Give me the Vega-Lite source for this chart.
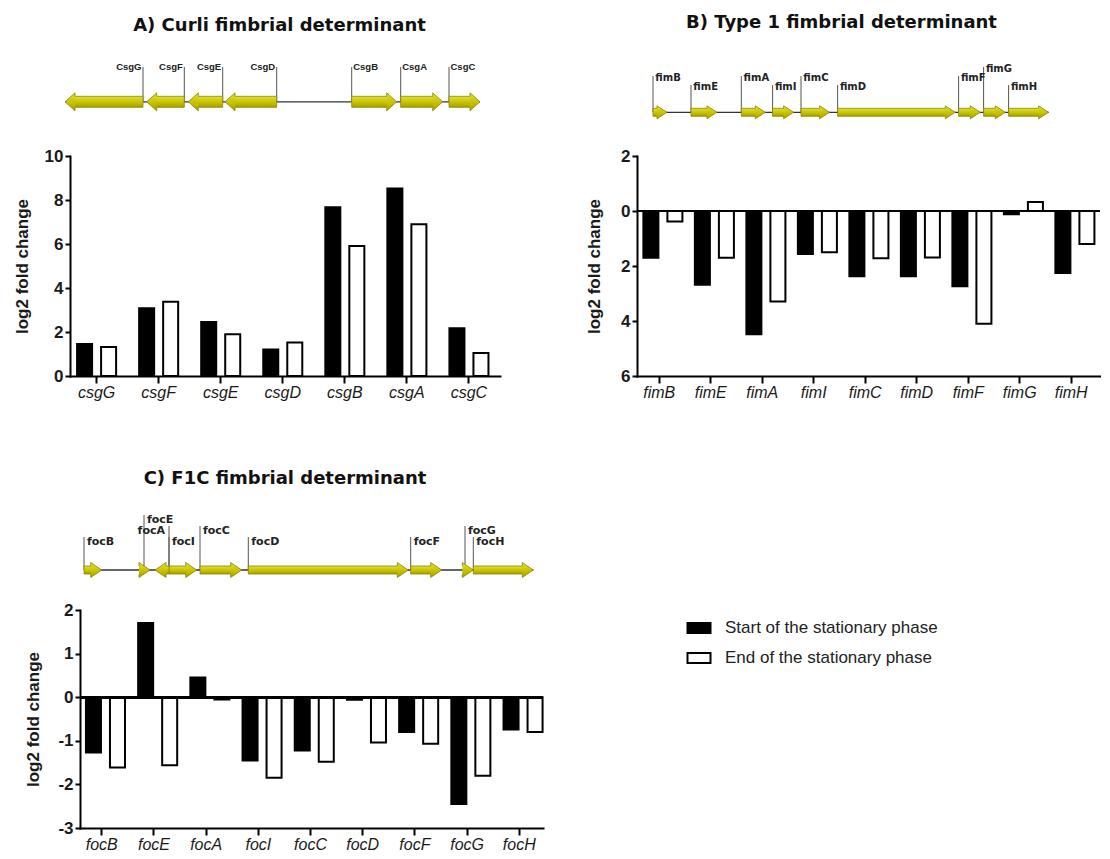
{
  "$schema": "https://vega.github.io/schema/vega-lite/v6.json",
  "background": "white",
  "padding": {"left": 13, "top": 14, "right": 0, "bottom": 0},
  "config": {
    "view": {"stroke": null},
    "font": "Liberation Sans",
    "title": {"font": "DejaVu Sans", "fontSize": 18, "fontWeight": "bold", "color": "#111111", "anchor": "middle"},
    "axis": {
      "domainColor": "black", "domainWidth": 2, "domainCap": "square",
      "tickColor": "black", "tickWidth": 2, "grid": false,
      "labelFont": "Liberation Sans", "labelFontSize": 16, "labelColor": "#1a1a1a",
      "titleFont": "Liberation Sans", "titleFontSize": 17, "titleFontWeight": "bold", "titleColor": "#1a1a1a"
    },
    "axisX": {"title": null, "labelFontStyle": "italic", "labelAngle": 0, "tickSize": 7, "labelPadding": 1},
    "axisY": {"labelFontWeight": "bold", "labelFontSize": 17, "tickSize": 5, "labelPadding": 2}
  },
  "datasets": {
    "csg": [
      {"gene": "csgG", "phase": "Start of the stationary phase", "value": 1.45},
      {"gene": "csgG", "phase": "End of the stationary phase", "value": 1.32},
      {"gene": "csgF", "phase": "Start of the stationary phase", "value": 3.08},
      {"gene": "csgF", "phase": "End of the stationary phase", "value": 3.38},
      {"gene": "csgE", "phase": "Start of the stationary phase", "value": 2.45},
      {"gene": "csgE", "phase": "End of the stationary phase", "value": 1.9},
      {"gene": "csgD", "phase": "Start of the stationary phase", "value": 1.2},
      {"gene": "csgD", "phase": "End of the stationary phase", "value": 1.52},
      {"gene": "csgB", "phase": "Start of the stationary phase", "value": 7.67},
      {"gene": "csgB", "phase": "End of the stationary phase", "value": 5.91},
      {"gene": "csgA", "phase": "Start of the stationary phase", "value": 8.52},
      {"gene": "csgA", "phase": "End of the stationary phase", "value": 6.9},
      {"gene": "csgC", "phase": "Start of the stationary phase", "value": 2.17},
      {"gene": "csgC", "phase": "End of the stationary phase", "value": 1.05}
    ],
    "fim": [
      {"gene": "fimB", "phase": "Start of the stationary phase", "value": -1.7},
      {"gene": "fimB", "phase": "End of the stationary phase", "value": -0.38},
      {"gene": "fimE", "phase": "Start of the stationary phase", "value": -2.68},
      {"gene": "fimE", "phase": "End of the stationary phase", "value": -1.7},
      {"gene": "fimA", "phase": "Start of the stationary phase", "value": -4.48},
      {"gene": "fimA", "phase": "End of the stationary phase", "value": -3.29},
      {"gene": "fimI", "phase": "Start of the stationary phase", "value": -1.56},
      {"gene": "fimI", "phase": "End of the stationary phase", "value": -1.5},
      {"gene": "fimC", "phase": "Start of the stationary phase", "value": -2.37},
      {"gene": "fimC", "phase": "End of the stationary phase", "value": -1.72},
      {"gene": "fimD", "phase": "Start of the stationary phase", "value": -2.37},
      {"gene": "fimD", "phase": "End of the stationary phase", "value": -1.69},
      {"gene": "fimF", "phase": "Start of the stationary phase", "value": -2.74},
      {"gene": "fimF", "phase": "End of the stationary phase", "value": -4.1},
      {"gene": "fimG", "phase": "Start of the stationary phase", "value": -0.12},
      {"gene": "fimG", "phase": "End of the stationary phase", "value": 0.33},
      {"gene": "fimH", "phase": "Start of the stationary phase", "value": -2.25},
      {"gene": "fimH", "phase": "End of the stationary phase", "value": -1.2}
    ],
    "foc": [
      {"gene": "focB", "phase": "Start of the stationary phase", "value": -1.27},
      {"gene": "focB", "phase": "End of the stationary phase", "value": -1.61},
      {"gene": "focE", "phase": "Start of the stationary phase", "value": 1.7},
      {"gene": "focE", "phase": "End of the stationary phase", "value": -1.56},
      {"gene": "focA", "phase": "Start of the stationary phase", "value": 0.45},
      {"gene": "focA", "phase": "End of the stationary phase", "value": -0.05},
      {"gene": "focI", "phase": "Start of the stationary phase", "value": -1.45},
      {"gene": "focI", "phase": "End of the stationary phase", "value": -1.85},
      {"gene": "focC", "phase": "Start of the stationary phase", "value": -1.22},
      {"gene": "focC", "phase": "End of the stationary phase", "value": -1.48},
      {"gene": "focD", "phase": "Start of the stationary phase", "value": -0.06},
      {"gene": "focD", "phase": "End of the stationary phase", "value": -1.04},
      {"gene": "focF", "phase": "Start of the stationary phase", "value": -0.8},
      {"gene": "focF", "phase": "End of the stationary phase", "value": -1.07},
      {"gene": "focG", "phase": "Start of the stationary phase", "value": -2.45},
      {"gene": "focG", "phase": "End of the stationary phase", "value": -1.8},
      {"gene": "focH", "phase": "Start of the stationary phase", "value": -0.74},
      {"gene": "focH", "phase": "End of the stationary phase", "value": -0.8}
    ],
    "csgMap": [
      {"gene": "CsgG", "left": 0, "right": 780, "strand": "-", "tier": 1},
      {"gene": "CsgF", "left": 817, "right": 1193, "strand": "-", "tier": 1},
      {"gene": "CsgE", "left": 1233, "right": 1577, "strand": "-", "tier": 1},
      {"gene": "CsgD", "left": 1600, "right": 2117, "strand": "-", "tier": 1},
      {"gene": "CsgB", "left": 2867, "right": 3317, "strand": "+", "tier": 1},
      {"gene": "CsgA", "left": 3357, "right": 3777, "strand": "+", "tier": 1},
      {"gene": "CsgC", "left": 3840, "right": 4150, "strand": "+", "tier": 1}
    ],
    "fimMap": [
      {"gene": "fimB", "left": 0, "right": 140, "strand": "+", "tier": 4},
      {"gene": "fimE", "left": 380, "right": 640, "strand": "+", "tier": 3},
      {"gene": "fimA", "left": 883, "right": 1123, "strand": "+", "tier": 4},
      {"gene": "fimI", "left": 1196, "right": 1406, "strand": "+", "tier": 3},
      {"gene": "fimC", "left": 1480, "right": 1766, "strand": "+", "tier": 4},
      {"gene": "fimD", "left": 1846, "right": 3023, "strand": "+", "tier": 3},
      {"gene": "fimF", "left": 3056, "right": 3273, "strand": "+", "tier": 4},
      {"gene": "fimG", "left": 3306, "right": 3523, "strand": "+", "tier": 5},
      {"gene": "fimH", "left": 3556, "right": 3956, "strand": "+", "tier": 3}
    ],
    "focMap": [
      {"gene": "focB", "left": 0, "right": 177, "strand": "+", "tier": 3},
      {"gene": "focE", "left": 600, "right": 660, "strand": "+", "tier": 5},
      {"gene": "focA", "left": 710, "right": 850, "strand": "-", "tier": 4},
      {"gene": "focI", "left": 850, "right": 1127, "strand": "+", "tier": 3},
      {"gene": "focC", "left": 1160, "right": 1577, "strand": "+", "tier": 4},
      {"gene": "focD", "left": 1643, "right": 3243, "strand": "+", "tier": 3},
      {"gene": "focF", "left": 3267, "right": 3577, "strand": "+", "tier": 3},
      {"gene": "focG", "left": 3810, "right": 3893, "strand": "+", "tier": 4},
      {"gene": "focH", "left": 3893, "right": 4493, "strand": "+", "tier": 3}
    ]
  },
  "spacing": 69,
  "vconcat": [
    {
      "spacing": 75,
      "hconcat": [
        {
          "width": 420, "height": 220,
          "title": {"text": "A) Curli fimbrial determinant", "dx": -10.5, "offset": 27.5},
          "resolve": {"scale": {"x": "independent", "y": "independent"}},
          "layer": [
            {
              "data": {"name": "csg"},
              "mark": {"type": "bar", "stroke": "black", "strokeWidth": 2, "opacity": 1},
              "encoding": {
                "x": {"field": "gene", "type": "nominal", "sort": null, "scale": {"range": [-10, 420], "paddingInner": 0.371, "paddingOuter": 0.15, "align": 0.38}},
                "xOffset": {"field": "phase", "type": "nominal", "sort": ["Start of the stationary phase", "End of the stationary phase"], "scale": {"paddingInner": 0.375}},
                "y": {"field": "value", "type": "quantitative", "scale": {"domain": [0, 10], "nice": false}, "axis": {"title": "log2 fold change", "values": [0, 2, 4, 6, 8, 10], "offset": 10, "titlePadding": 13}},
                "color": {"field": "phase", "type": "nominal", "scale": {"domain": ["Start of the stationary phase", "End of the stationary phase"], "range": ["#000000", "#ffffff"]},
                  "legend": {"orient": "none", "legendX": 608, "legendY": 461, "title": null, "symbolType": "M-1.15,-0.5H1.15V0.5H-1.15Z", "symbolSize": 400, "symbolStrokeColor": "black", "symbolStrokeWidth": 2, "labelFontSize": 17, "labelFont": "Liberation Sans", "labelColor": "#222222", "labelOffset": 15, "labelLimit": 400, "rowPadding": 10, "padding": 0}}
              }
            },
            {
              "data": {"name": "csgMap"},
              "layer": [
                {"mark": {"type": "rule", "stroke": "#333333", "strokeWidth": 1.3},
                 "encoding": {
                   "x": {"aggregate": "min", "field": "left", "type": "quantitative", "scale": {"domain": [0, 4150], "range": [-15, 400], "nice": false, "zero": false, "padding": 0}, "axis": null},
                   "x2": {"aggregate": "max", "field": "right"},
                   "y": {"datum": 0, "type": "quantitative", "scale": {"domain": [0, 1], "range": [-54.2, -89], "nice": false, "zero": false, "padding": 0}, "axis": null}}},
                {"transform": [{"filter": "datum.strand == '+'"}],
                 "mark": {"type": "rule", "stroke": "#555555", "strokeWidth": 1},
                 "encoding": {"x": {"field": "left", "type": "quantitative"}, "y": {"field": "tier", "type": "quantitative"}, "y2": {"datum": 0}}},
                {"transform": [{"filter": "datum.strand == '-'"}],
                 "mark": {"type": "rule", "stroke": "#555555", "strokeWidth": 1},
                 "encoding": {"x": {"field": "right", "type": "quantitative"}, "y": {"field": "tier", "type": "quantitative"}, "y2": {"datum": 0}}},
                {"transform": [{"filter": "datum.strand == '+'"}],
                 "mark": {"type": "bar", "orient": "horizontal", "height": 11, "x2Offset": -8, "opacity": 1, "stroke": "#8a8800", "strokeWidth": 0.8,
                   "fill": {"gradient": "linear", "x1": 0, "y1": 0, "x2": 0, "y2": 1, "stops": [{"offset": 0, "color": "#dede3a"}, {"offset": 0.5, "color": "#cac600"}, {"offset": 1, "color": "#a4a000"}]}},
                 "encoding": {"x": {"field": "left", "type": "quantitative"}, "x2": {"field": "right"}, "y": {"datum": 0, "type": "quantitative"}}},
                {"transform": [{"filter": "datum.strand == '-'"}],
                 "mark": {"type": "bar", "orient": "horizontal", "height": 11, "xOffset": 8, "opacity": 1, "stroke": "#8a8800", "strokeWidth": 0.8,
                   "fill": {"gradient": "linear", "x1": 0, "y1": 0, "x2": 0, "y2": 1, "stops": [{"offset": 0, "color": "#dede3a"}, {"offset": 0.5, "color": "#cac600"}, {"offset": 1, "color": "#a4a000"}]}},
                 "encoding": {"x": {"field": "left", "type": "quantitative"}, "x2": {"field": "right"}, "y": {"datum": 0, "type": "quantitative"}}},
                {"transform": [{"filter": "datum.strand == '+'"}],
                 "mark": {"type": "point", "filled": true, "opacity": 1, "size": 324, "shape": "M-1.111,-0.61L-1.111,-1L0,0L-1.111,1L-1.111,0.61", "stroke": "#8a8800", "strokeWidth": 0.8,
                   "fill": {"gradient": "linear", "x1": 0, "y1": 0, "x2": 0, "y2": 1, "stops": [{"offset": 0, "color": "#dede3a"}, {"offset": 0.5, "color": "#cac600"}, {"offset": 1, "color": "#a4a000"}]}},
                 "encoding": {"x": {"field": "right", "type": "quantitative"}, "y": {"datum": 0, "type": "quantitative"}}},
                {"transform": [{"filter": "datum.strand == '-'"}],
                 "mark": {"type": "point", "filled": true, "opacity": 1, "size": 324, "shape": "M1.111,-0.61L1.111,-1L0,0L1.111,1L1.111,0.61", "stroke": "#8a8800", "strokeWidth": 0.8,
                   "fill": {"gradient": "linear", "x1": 0, "y1": 0, "x2": 0, "y2": 1, "stops": [{"offset": 0, "color": "#dede3a"}, {"offset": 0.5, "color": "#cac600"}, {"offset": 1, "color": "#a4a000"}]}},
                 "encoding": {"x": {"field": "left", "type": "quantitative"}, "y": {"datum": 0, "type": "quantitative"}}},
                {"transform": [{"filter": "datum.strand == '+'"}],
                 "mark": {"type": "text", "align": "left", "baseline": "alphabetic", "dx": 1.5, "dy": 3.4, "font": "Liberation Sans", "fontSize": 9.5, "fontWeight": "bold", "fill": "#222222"},
                 "encoding": {"x": {"field": "left", "type": "quantitative"}, "y": {"field": "tier", "type": "quantitative"}, "text": {"field": "gene"}}},
                {"transform": [{"filter": "datum.strand == '-'"}],
                 "mark": {"type": "text", "align": "right", "baseline": "alphabetic", "dx": -1.5, "dy": 3.4, "font": "Liberation Sans", "fontSize": 9.5, "fontWeight": "bold", "fill": "#222222"},
                 "encoding": {"x": {"field": "right", "type": "quantitative"}, "y": {"field": "tier", "type": "quantitative"}, "text": {"field": "gene"}}}
              ]
            }
          ]
        },
        {
          "width": 463, "height": 220,
          "title": {"text": "B) Type 1 fimbrial determinant", "dx": -27, "offset": 31.5},
          "resolve": {"scale": {"x": "independent", "y": "independent"}},
          "layer": [
            {
              "data": {"name": "fim"},
              "layer": [
                {
                  "mark": {"type": "bar", "stroke": "black", "strokeWidth": 2, "opacity": 1},
                  "encoding": {
                    "x": {"field": "gene", "type": "nominal", "sort": null, "scale": {"paddingInner": 0.385, "paddingOuter": 0.1875, "align": 0.33}},
                    "xOffset": {"field": "phase", "type": "nominal", "sort": ["Start of the stationary phase", "End of the stationary phase"], "scale": {"paddingInner": 0.35}},
                    "y": {"field": "value", "type": "quantitative", "scale": {"domain": [-6, 2], "nice": false}, "axis": {"title": "log2 fold change", "values": [2, 0, -2, -4, -6], "labelExpr": "abs(datum.value)", "titlePadding": 17}},
                    "color": {"field": "phase", "type": "nominal", "scale": {"domain": ["Start of the stationary phase", "End of the stationary phase"], "range": ["#000000", "#ffffff"]},
                      "legend": {"orient": "none", "legendX": 608, "legendY": 461, "title": null, "symbolType": "M-1.15,-0.5H1.15V0.5H-1.15Z", "symbolSize": 400, "symbolStrokeColor": "black", "symbolStrokeWidth": 2, "labelFontSize": 17, "labelFont": "Liberation Sans", "labelColor": "#222222", "labelOffset": 15, "labelLimit": 400, "rowPadding": 10, "padding": 0}}
                  }
                },
                {"mark": {"type": "rule", "stroke": "black", "strokeWidth": 2}, "encoding": {"y": {"datum": 0, "type": "quantitative"}}}
              ]
            },
            {
              "data": {"name": "fimMap"},
              "layer": [
                {"mark": {"type": "rule", "stroke": "#333333", "strokeWidth": 1.3},
                 "encoding": {
                   "x": {"aggregate": "min", "field": "left", "type": "quantitative", "scale": {"domain": [0, 3956], "range": [16, 411.6], "nice": false, "zero": false, "padding": 0}, "axis": null},
                   "x2": {"aggregate": "max", "field": "right"},
                   "y": {"datum": 0, "type": "quantitative", "scale": {"domain": [0, 5], "range": [-43.7, -89.05], "nice": false, "zero": false, "padding": 0}, "axis": null}}},
                {"mark": {"type": "rule", "stroke": "#555555", "strokeWidth": 1},
                 "encoding": {"x": {"field": "left", "type": "quantitative"}, "y": {"field": "tier", "type": "quantitative"}, "y2": {"datum": 0}}},
                {"mark": {"type": "bar", "orient": "horizontal", "height": 8, "x2Offset": -8, "opacity": 1, "stroke": "#8a8800", "strokeWidth": 0.8,
                   "fill": {"gradient": "linear", "x1": 0, "y1": 0, "x2": 0, "y2": 1, "stops": [{"offset": 0, "color": "#dede3a"}, {"offset": 0.5, "color": "#cac600"}, {"offset": 1, "color": "#a4a000"}]}},
                 "encoding": {"x": {"field": "left", "type": "quantitative"}, "x2": {"field": "right"}, "y": {"datum": 0, "type": "quantitative"}}},
                {"mark": {"type": "point", "filled": true, "opacity": 1, "size": 169, "shape": "M-1.538,-0.615L-1.538,-1L0,0L-1.538,1L-1.538,0.615", "stroke": "#8a8800", "strokeWidth": 0.8,
                   "fill": {"gradient": "linear", "x1": 0, "y1": 0, "x2": 0, "y2": 1, "stops": [{"offset": 0, "color": "#dede3a"}, {"offset": 0.5, "color": "#cac600"}, {"offset": 1, "color": "#a4a000"}]}},
                 "encoding": {"x": {"field": "right", "type": "quantitative"}, "y": {"datum": 0, "type": "quantitative"}}},
                {"mark": {"type": "text", "align": "left", "baseline": "alphabetic", "dx": 2.3, "dy": 5, "font": "DejaVu Sans", "fontSize": 10, "fontWeight": "bold", "fill": "#222222"},
                 "encoding": {"x": {"field": "left", "type": "quantitative"}, "y": {"field": "tier", "type": "quantitative"}, "text": {"field": "gene"}}}
              ]
            }
          ]
        }
      ]
    },
    {
      "hconcat": [
        {
          "width": 463, "height": 218,
          "title": {"text": "C) F1C fimbrial determinant", "dx": -26.5, "offset": 26},
          "resolve": {"scale": {"x": "independent", "y": "independent"}},
          "layer": [
            {
              "data": {"name": "foc"},
              "layer": [
                {
                  "mark": {"type": "bar", "stroke": "black", "strokeWidth": 2, "opacity": 1},
                  "encoding": {
                    "x": {"field": "gene", "type": "nominal", "sort": null, "scale": {"paddingInner": 0.395, "paddingOuter": 0.1325, "align": 0.43}},
                    "xOffset": {"field": "phase", "type": "nominal", "sort": ["Start of the stationary phase", "End of the stationary phase"], "scale": {"paddingInner": 0.39}},
                    "y": {"field": "value", "type": "quantitative", "scale": {"domain": [-3, 2], "nice": false}, "axis": {"title": "log2 fold change", "values": [2, 1, 0, -1, -2, -3], "labelExpr": "'' + datum.value", "titlePadding": 15}},
                    "color": {"field": "phase", "type": "nominal", "scale": {"domain": ["Start of the stationary phase", "End of the stationary phase"], "range": ["#000000", "#ffffff"]},
                      "legend": {"orient": "none", "legendX": 608, "legendY": 461, "title": null, "symbolType": "M-1.15,-0.5H1.15V0.5H-1.15Z", "symbolSize": 400, "symbolStrokeColor": "black", "symbolStrokeWidth": 2, "labelFontSize": 17, "labelFont": "Liberation Sans", "labelColor": "#222222", "labelOffset": 15, "labelLimit": 400, "rowPadding": 10, "padding": 0}}
                  }
                },
                {"mark": {"type": "rule", "stroke": "black", "strokeWidth": 2}, "encoding": {"y": {"datum": 0, "type": "quantitative"}}}
              ]
            },
            {
              "data": {"name": "focMap"},
              "layer": [
                {"mark": {"type": "rule", "stroke": "#333333", "strokeWidth": 1.3},
                 "encoding": {
                   "x": {"aggregate": "min", "field": "left", "type": "quantitative", "scale": {"domain": [0, 4493], "range": [4, 453.3], "nice": false, "zero": false, "padding": 0}, "axis": null},
                   "x2": {"aggregate": "max", "field": "right"},
                   "y": {"datum": 0, "type": "quantitative", "scale": {"domain": [0, 5], "range": [-40, -95], "nice": false, "zero": false, "padding": 0}, "axis": null}}},
                {"transform": [{"filter": "datum.strand == '+'"}],
                 "mark": {"type": "rule", "stroke": "#555555", "strokeWidth": 1},
                 "encoding": {"x": {"field": "left", "type": "quantitative"}, "y": {"field": "tier", "type": "quantitative"}, "y2": {"datum": 0}}},
                {"transform": [{"filter": "datum.strand == '-'"}],
                 "mark": {"type": "rule", "stroke": "#555555", "strokeWidth": 1},
                 "encoding": {"x": {"field": "right", "type": "quantitative"}, "y": {"field": "tier", "type": "quantitative"}, "y2": {"datum": 0}}},
                {"transform": [{"filter": "datum.strand == '+'"}],
                 "mark": {"type": "bar", "orient": "horizontal", "height": 8, "x2Offset": -9, "opacity": 1, "stroke": "#8a8800", "strokeWidth": 0.8,
                   "fill": {"gradient": "linear", "x1": 0, "y1": 0, "x2": 0, "y2": 1, "stops": [{"offset": 0, "color": "#dede3a"}, {"offset": 0.5, "color": "#cac600"}, {"offset": 1, "color": "#a4a000"}]}},
                 "encoding": {"x": {"field": "left", "type": "quantitative"}, "x2": {"field": "right"}, "y": {"datum": 0, "type": "quantitative"}}},
                {"transform": [{"filter": "datum.strand == '-'"}],
                 "mark": {"type": "bar", "orient": "horizontal", "height": 8, "xOffset": 9, "opacity": 1, "stroke": "#8a8800", "strokeWidth": 0.8,
                   "fill": {"gradient": "linear", "x1": 0, "y1": 0, "x2": 0, "y2": 1, "stops": [{"offset": 0, "color": "#dede3a"}, {"offset": 0.5, "color": "#cac600"}, {"offset": 1, "color": "#a4a000"}]}},
                 "encoding": {"x": {"field": "left", "type": "quantitative"}, "x2": {"field": "right"}, "y": {"datum": 0, "type": "quantitative"}}},
                {"transform": [{"filter": "datum.strand == '+'"}],
                 "mark": {"type": "point", "filled": true, "opacity": 1, "size": 225, "shape": "M-1.467,-0.533L-1.467,-1L0,0L-1.467,1L-1.467,0.533", "stroke": "#8a8800", "strokeWidth": 0.8,
                   "fill": {"gradient": "linear", "x1": 0, "y1": 0, "x2": 0, "y2": 1, "stops": [{"offset": 0, "color": "#dede3a"}, {"offset": 0.5, "color": "#cac600"}, {"offset": 1, "color": "#a4a000"}]}},
                 "encoding": {"x": {"field": "right", "type": "quantitative"}, "y": {"datum": 0, "type": "quantitative"}}},
                {"transform": [{"filter": "datum.strand == '-'"}],
                 "mark": {"type": "point", "filled": true, "opacity": 1, "size": 225, "shape": "M1.467,-0.533L1.467,-1L0,0L1.467,1L1.467,0.533", "stroke": "#8a8800", "strokeWidth": 0.8,
                   "fill": {"gradient": "linear", "x1": 0, "y1": 0, "x2": 0, "y2": 1, "stops": [{"offset": 0, "color": "#dede3a"}, {"offset": 0.5, "color": "#cac600"}, {"offset": 1, "color": "#a4a000"}]}},
                 "encoding": {"x": {"field": "left", "type": "quantitative"}, "y": {"datum": 0, "type": "quantitative"}}},
                {"transform": [{"filter": "datum.strand == '+'"}],
                 "mark": {"type": "text", "align": "left", "baseline": "alphabetic", "dx": 3, "dy": 7.5, "font": "DejaVu Sans", "fontSize": 11, "fontWeight": "bold", "fill": "#222222"},
                 "encoding": {"x": {"field": "left", "type": "quantitative"}, "y": {"field": "tier", "type": "quantitative"}, "text": {"field": "gene"}}},
                {"transform": [{"filter": "datum.strand == '-'"}],
                 "mark": {"type": "text", "align": "right", "baseline": "alphabetic", "dx": -4, "dy": 7.5, "font": "DejaVu Sans", "fontSize": 11, "fontWeight": "bold", "fill": "#222222"},
                 "encoding": {"x": {"field": "right", "type": "quantitative"}, "y": {"field": "tier", "type": "quantitative"}, "text": {"field": "gene"}}}
              ]
            }
          ]
        }
      ]
    }
  ]
}
